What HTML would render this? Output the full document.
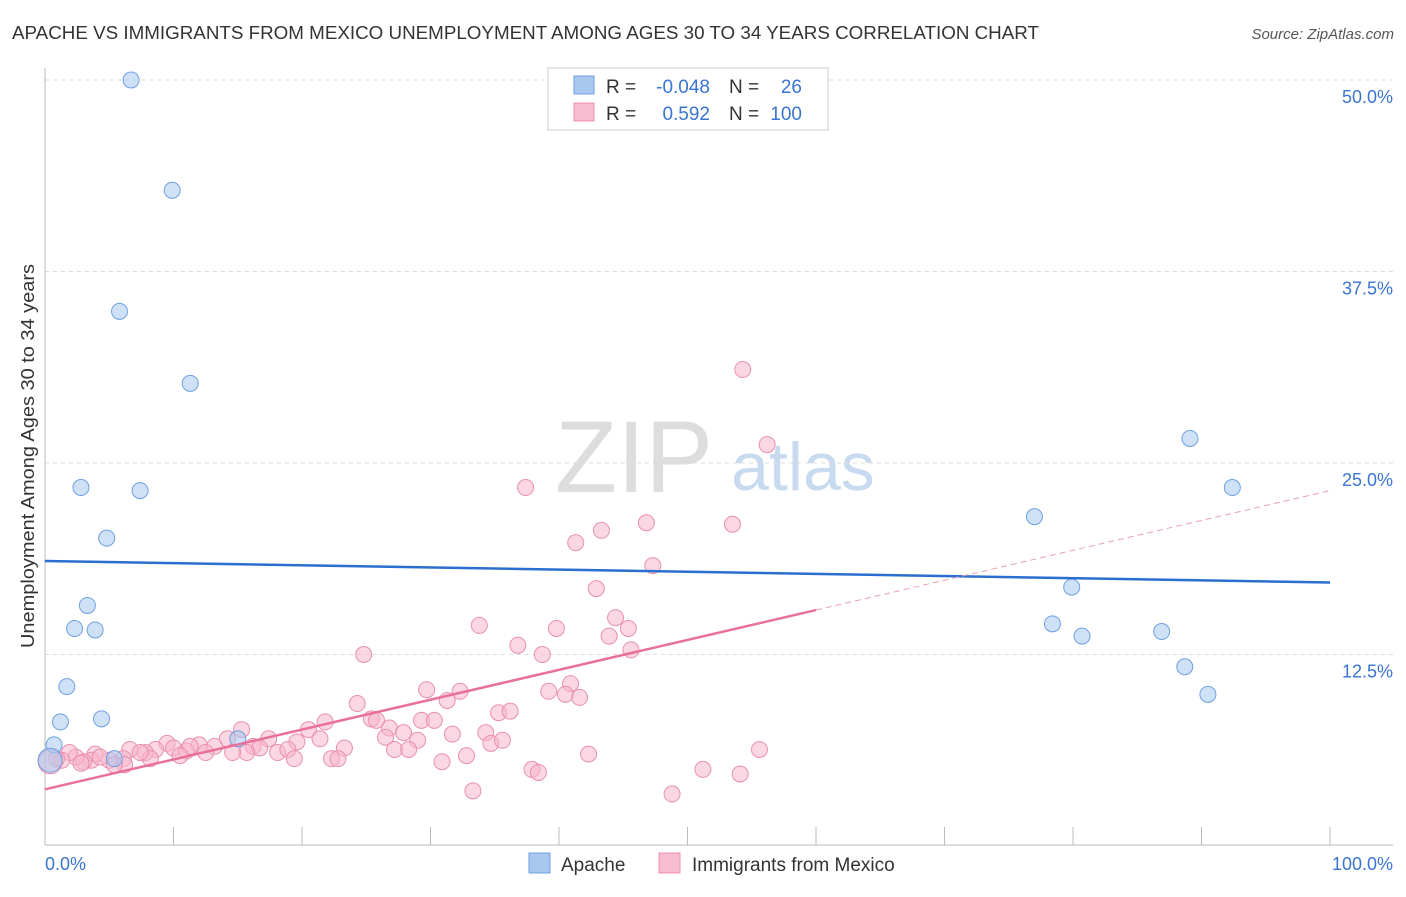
<!DOCTYPE html>
<html><head><meta charset="utf-8"><style>
body{margin:0;background:#fff;font-family:"Liberation Sans",sans-serif}
svg text{font-family:"Liberation Sans",sans-serif}
</style></head><body>
<svg id="c" width="1406" height="892" viewBox="0 0 1406 892">
<text x="12" y="39" font-size="18" fill="#333" textLength="1027" lengthAdjust="spacingAndGlyphs">APACHE VS IMMIGRANTS FROM MEXICO UNEMPLOYMENT AMONG AGES 30 TO 34 YEARS CORRELATION CHART</text>
<text x="1394" y="39" font-size="15" fill="#555" font-style="italic" text-anchor="end">Source: ZipAtlas.com</text>
<text x="634" y="492" font-size="102" fill="#ddd" font-family="Liberation Serif" text-anchor="middle" textLength="158" lengthAdjust="spacingAndGlyphs">ZIP</text>
<text x="803" y="490" font-size="68" fill="#c8daf0" text-anchor="middle">atlas</text>
<text transform="translate(34,456) rotate(-90)" font-size="18" fill="#333" text-anchor="middle" textLength="384" lengthAdjust="spacingAndGlyphs">Unemployment Among Ages 30 to 34 years</text>
<g id="grid"></g><g id="marks"></g>
<g>
<rect x="548" y="68" width="280" height="62" fill="#fff" stroke="#ccc"/>
<rect x="574" y="76" width="20" height="18" fill="#a8c8f0" stroke="#6fa0e0"/>
<rect x="574" y="103" width="20" height="18" fill="#f8bcd0" stroke="#e890b0"/>
<text x="606" y="93" font-size="19" fill="#333">R =</text>
<text x="710" y="93" font-size="19" fill="#3a75d0" text-anchor="end">-0.048</text>
<text x="729" y="93" font-size="19" fill="#333">N =</text>
<text x="802" y="93" font-size="19" fill="#3a75d0" text-anchor="end">26</text>
<text x="606" y="120" font-size="19" fill="#333">R =</text>
<text x="710" y="120" font-size="19" fill="#3a75d0" text-anchor="end">0.592</text>
<text x="729" y="120" font-size="19" fill="#333">N =</text>
<text x="802" y="120" font-size="19" fill="#3a75d0" text-anchor="end">100</text>
</g>
<g>
<rect x="529" y="853" width="21" height="20" fill="#a8c8f0" stroke="#6fa0e0"/>
<text x="561" y="871" font-size="19" fill="#333">Apache</text>
<rect x="659" y="853" width="21" height="20" fill="#f8bcd0" stroke="#e890b0"/>
<text x="692" y="871" font-size="19" fill="#333">Immigrants from Mexico</text>
</g>
<text x="45" y="870" font-size="18" fill="#3a75d0">0.0%</text>
<text x="1393" y="870" font-size="18" fill="#3a75d0" text-anchor="end">100.0%</text>
</svg>
<script>
const yTicks=[12.5,25,37.5,50];
const yTickLabels=["12.5%","25.0%","37.5%","50.0%"];
const xTicks=[0,10,20,30,40,50,60,70,80,90,100];
const apacheX=[6.7,9.9,5.8,11.3,2.8,7.4,4.8,3.3,2.3,3.9,1.7,1.2,4.4,0.7,0.4,5.4,15.0,89.1,92.4,77.0,79.9,78.4,80.7,86.9,88.7,90.5];
const apacheY=[50.0,42.8,34.9,30.2,23.4,23.2,20.1,15.7,14.2,14.1,10.4,8.1,8.3,6.6,5.6,5.7,7.0,26.6,23.4,21.5,16.9,14.5,13.7,14.0,11.7,9.9];
const mexX=[54.3,56.2,37.4,46.8,53.5,43.3,41.3,47.3,42.9,44.4,45.4,33.8,39.8,43.9,36.8,45.6,38.7,24.8,40.9,39.2,40.5,41.6,29.7,32.3,31.3,24.3,35.3,36.2,25.4,25.8,21.8,29.3,30.3,20.5,26.8,27.9,34.3,26.5,31.7,29.0,21.4,15.3,14.2,17.4,19.6,34.7,35.6,23.3,27.2,28.3,16.2,16.7,18.1,18.9,12.0,13.2,9.5,10.0,11.0,11.3,12.5,8.6,7.8,6.6,15.7,14.6,19.4,22.3,22.8,32.8,42.3,55.6,30.9,8.2,10.5,6.1,3.9,3.6,5.0,6.2,3.0,2.4,1.9,1.3,0.9,2.8,0.4,5.4,37.9,38.4,51.2,54.1,33.3,48.8,7.4,4.3];
const mexY=[31.1,26.2,23.4,21.1,21.0,20.6,19.8,18.3,16.8,14.9,14.2,14.4,14.2,13.7,13.1,12.8,12.5,12.5,10.6,10.1,9.9,9.7,10.2,10.1,9.5,9.3,8.7,8.8,8.3,8.2,8.1,8.2,8.2,7.6,7.7,7.4,7.4,7.1,7.3,6.9,7.0,7.6,7.0,7.0,6.8,6.7,6.9,6.4,6.3,6.3,6.5,6.4,6.1,6.3,6.6,6.5,6.7,6.4,6.2,6.5,6.1,6.3,6.1,6.3,6.1,6.1,5.7,5.7,5.7,5.9,6.0,6.3,5.5,5.7,5.9,5.7,6.0,5.6,5.6,5.3,5.5,5.8,6.1,5.6,5.7,5.4,5.5,5.3,5.0,4.8,5.0,4.7,3.6,3.4,6.1,5.8];
const apacheLine=[18.6,17.2];
const mexLine=[3.7,23.2];
const mexSolidEnd=60;
const X=v=>45+v*12.85, Y=v=>846-v*15.32;
const NS="http://www.w3.org/2000/svg";
function mk(t,a,p){const e=document.createElementNS(NS,t);for(const k in a)e.setAttribute(k,a[k]);p.appendChild(e);return e;}
const g=document.getElementById('grid'), m=document.getElementById('marks');
yTicks.forEach((t,i)=>{
 const l=mk('line',{x1:45,x2:1393,y1:Y(t),y2:Y(t),stroke:'#ddd','stroke-dasharray':'4,4'},g);
 
 
 const tx=mk('text',{x:1393,y:Y(t)+23,'font-size':18,fill:'#3a75d0','text-anchor':'end'},g);
 tx.textContent=yTickLabels[i];
 
 
});
xTicks.forEach(t=>{
 const l=mk('line',{x1:X(t),x2:X(t),y1:827,y2:845,stroke:'#bbb'},g);
 
 
});
const ax=mk('line',{x1:45,x2:1393,y1:845,y2:845,stroke:'#bbb'},g);


const ay=mk('line',{x1:45,x2:45,y1:68,y2:845,stroke:'#bbb'},g);


mexX.forEach((x,i)=>{
 const c=mk('circle',{cx:X(x),cy:Y(mexY[i]),r:i==86?12:8,fill:'rgba(248,180,204,0.55)',stroke:'#e890b0','stroke-width':1},m);
 
 
});
apacheX.forEach((x,i)=>{
 const c=mk('circle',{cx:X(x),cy:Y(apacheY[i]),r:i==14?12:8,fill:'rgba(168,200,240,0.55)',stroke:'#6fa0e0','stroke-width':1},m);
 
 
});
const bl=mk('line',{x1:X(0),x2:X(100),y1:Y(apacheLine[0]),y2:Y(apacheLine[1]),stroke:'#2a6fd0','stroke-width':2.5},m);


const mid=mexLine[0]+(mexLine[1]-mexLine[0])*mexSolidEnd/100;
const pl=mk('line',{x1:X(0),x2:X(mexSolidEnd),y1:Y(mexLine[0]),y2:Y(mid),stroke:'#e8709a','stroke-width':2.5},m);


const pd=mk('line',{x1:X(mexSolidEnd),x2:X(100),y1:Y(mid),y2:Y(mexLine[1]),stroke:'#e8a0b8','stroke-width':1,'stroke-dasharray':'6,4'},m);


</script>
</body></html>
